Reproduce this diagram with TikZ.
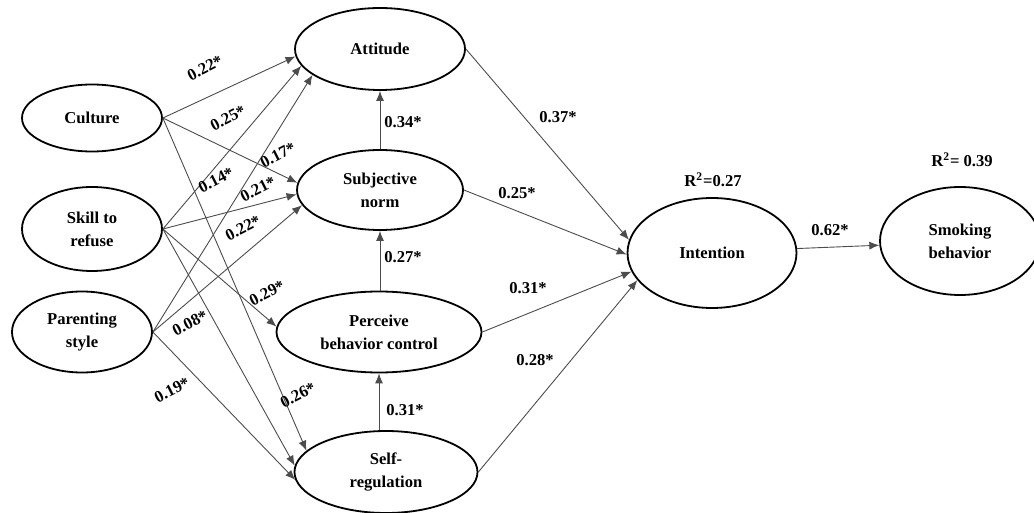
\documentclass[tikz,border=0pt]{standalone}
\usepackage{fontspec}
\setmainfont{Liberation Serif}
\usetikzlibrary{shapes.geometric,arrows.meta}

\begin{document}
\begin{tikzpicture}[
	x=0.5pt, y=-0.5pt,
	>={Latex[length=5pt,width=4pt]},
	font=\fontsize{8.3}{11.5}\selectfont\bfseries,
	var/.style={draw, ellipse, line width=0.9pt, inner sep=0pt,
		align=center},
	path/.style={->, draw=black!70, line width=0.45pt},
	coef/.style={inner sep=0pt}
]
\useasboundingbox (0,0) rectangle (1034,513);

% exogenous
\node[var, minimum width=70pt, minimum height=33.5pt] (cult) at (92,118) {Culture};
\node[var, minimum width=70pt, minimum height=42pt] (skill) at (92,229) {Skill to\\refuse};
\node[var, minimum width=70pt, minimum height=40.5pt] (par) at (82,332) {Parenting\\style};
% mediators
\node[var, minimum width=85pt, minimum height=41pt] (att) at (380,49) {Attitude};
\node[var, minimum width=83pt, minimum height=40pt] (sn) at (380,190) {Subjective\\norm};
\node[var, minimum width=102.5pt, minimum height=40.5pt] (pbc) at (379,332) {Perceive\\behavior control};
\node[var, minimum width=91.5pt, minimum height=41pt] (sr) at (386,472) {Self-\\regulation};
% outcomes
\node[var, minimum width=84.5pt, minimum height=55pt] (int) at (712,253) {Intention};
\node[var, minimum width=80pt, minimum height=54pt] (smk) at (960,241) {Smoking\\behavior};
\node (r2int) at (713,180) {R\textsuperscript{2}=0.27};
\node (r2smk) at (962,160) {R\textsuperscript{2}= 0.39};

\foreach \src/\dst in {cult/att.185, skill/att.192, par/att.201,
	cult/sn.175, skill/sn.183, par/sn.191, skill/pbc.177,
	cult/sr.165, skill/sr.176, par/sr.185}
	\draw[path] (\src.east) -- (\dst);

\foreach \src/\dst in {att/int.171, sn/int.181, pbc/int.193, sr/int.200}
	\draw[path] (\src.east) -- (\dst);

\draw[path] (sn.north) -- (att.south);
\draw[path] (pbc.north -| sn.south) -- (sn.south);
\draw[path] (pbc.south |- sr.north) -- (pbc.south);
\draw[path] (int.3) -- (smk.183);

\foreach \x/\y/\v [count=\i] in {205/68/0.22*, 228/118/0.25*, 278/155/0.17*,
	216/180/0.14*, 258/189/0.21*, 243/228/0.22*, 267/293/0.29*,
	190/323/0.08*, 172/390/0.19*, 298/395/0.26*}
	\node[coef, rotate=27] (cl\i) at (\x,\y) {\v};

\foreach \x/\y/\v [count=\i] in {403/122/0.34*, 558/117/0.37*, 517/193/0.25*,
	403/257/0.27*, 528/288/0.31*, 535/360/0.28*, 405/410/0.31*, 830/230/0.62*}
	\node[coef] (cr\i) at (\x,\y) {\v};
\end{tikzpicture}
\end{document}
